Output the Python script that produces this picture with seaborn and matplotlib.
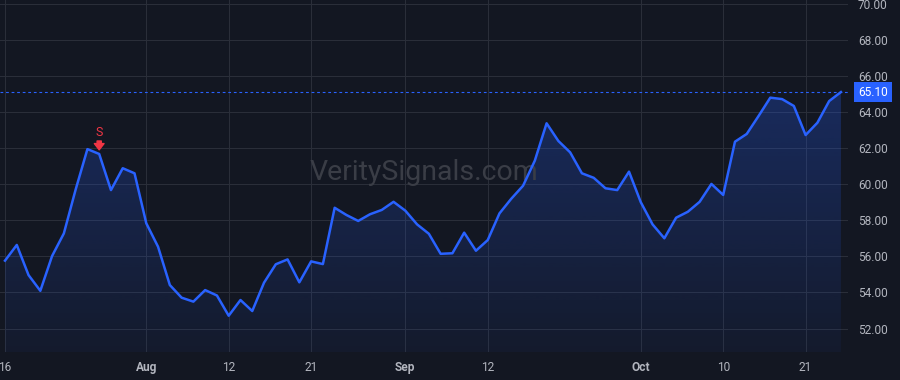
import numpy as np
import pandas as pd
import matplotlib
matplotlib.use("Agg")
import matplotlib.pyplot as plt
import matplotlib.transforms as mtransforms
import seaborn as sns

# ---- data (US trading days 2024-07-16 .. 2024-10-24) ----
prices = [
    55.76, 56.63, 54.96, 54.09, 56.02, 57.27, 59.70, 61.94, 61.67, 59.67,
    60.88, 60.60, 57.83, 56.53, 54.41, 53.71, 53.49, 54.13, 53.83, 52.71,
    53.58, 52.97, 54.54, 55.56, 55.83, 54.56, 55.72, 55.57, 58.69, 58.29,
    57.96, 58.33, 58.57, 59.02, 58.53, 57.77, 57.25, 56.14, 56.17, 57.31,
    56.31, 56.90, 58.38, 59.19, 59.91, 61.30, 63.37, 62.39, 61.76, 60.60,
    60.35, 59.77, 59.67, 60.69, 59.00, 57.77, 57.00, 58.14, 58.47, 59.02,
    60.01, 59.40, 62.35, 62.78, 63.77, 64.79, 64.71, 64.33, 62.72, 63.40,
    64.60, 65.10,
]
x_tick_index = [0, 12, 19, 26, 34, 41, 54, 61, 68]
x_tick_labels = ["16", "Aug", "12", "21", "Sep", "12", "Oct", "10", "21"]
month_labels = ["Aug", "Sep", "Oct"]
y_ticks = [52, 54, 56, 58, 60, 62, 64, 66, 68, 70]
signal_index = 8
signal_label = "S"
watermark = "VeritySignals.com"

df = pd.DataFrame({"idx": np.arange(len(prices)), "price": prices})

BG = "#131722"
GRID = "#2a2e39"
BLUE = "#2962FF"
RED = "#F23645"
TXT = "#b2b5be"

plt.rcParams["font.family"] = ["Roboto", "DejaVu Sans"]

fig = plt.figure(figsize=(9, 3.8), dpi=100, facecolor=BG)
ax = fig.add_axes([0, 28 / 380, 848 / 900, 352 / 380])
ax.set_facecolor(BG)

xlim = (-0.425, 71.6)
ylim = (50.70, 70.20)
ax.set_xlim(*xlim)
ax.set_ylim(*ylim)

# gradient fill under line
poly = ax.fill_between(df["idx"], df["price"], ylim[0], color="none", linewidth=0)
top = max(prices)
n = 256
grad = np.zeros((n, 1, 4))
grad[:, 0, 0] = 41 / 255
grad[:, 0, 1] = 98 / 255
grad[:, 0, 2] = 1.0
grad[:, 0, 3] = np.linspace(0.05, 0.27, n)
im = ax.imshow(grad, extent=[xlim[0], xlim[1], ylim[0], top], origin="lower",
               aspect="auto", zorder=1, interpolation="bilinear")
path = poly.get_paths()[0]
im.set_clip_path(path, transform=ax.transData)

sns.lineplot(data=df, x="idx", y="price", ax=ax, color=BLUE, linewidth=1.8, zorder=3)

# last price dotted line + label
last = prices[-1]
ax.axhline(last, color=BLUE, linewidth=0.8, linestyle=(0, (2.5, 2.5)), zorder=2)
trans = mtransforms.blended_transform_factory(ax.transAxes, ax.transData)
ax.text(1.0 + 10 / 848, last, f"{last:.2f}", transform=trans, ha="left", va="center",
        color="white", fontsize=8.6, clip_on=False, zorder=5,
        bbox=dict(boxstyle="square,pad=0.32", facecolor=BLUE, edgecolor="none"))

# grid, ticks
ax.set_xticks(x_tick_index)
ax.set_xticklabels(x_tick_labels)
for lab in ax.get_xticklabels():
    if lab.get_text() in month_labels:
        lab.set_fontweight("bold")
ax.set_yticks(y_ticks)
ax.set_yticklabels([f"{v:.2f}" for v in y_ticks])
ax.yaxis.tick_right()
ax.tick_params(axis="y", length=0, pad=7.2, colors=TXT, labelsize=8.6)
ax.tick_params(axis="x", length=0, pad=6.5, colors=TXT, labelsize=8.6)
ax.grid(True, color=GRID, linewidth=0.75, zorder=0)
ax.set_axisbelow(True)
for s in ax.spines.values():
    s.set_visible(False)
ax.set_xlabel("")
ax.set_ylabel("")

# signal marker
sv = prices[signal_index]
ax.annotate("", xy=(signal_index, sv), xytext=(0, 13), textcoords="offset pixels",
            xycoords="data",
            arrowprops=dict(arrowstyle="simple,head_length=0.45,head_width=0.7,tail_width=0.3",
                            color=RED, shrinkA=0, shrinkB=3), zorder=6)
ax.annotate(signal_label, xy=(signal_index, sv), xytext=(0, 21), textcoords="offset pixels",
            ha="center", va="center", color=RED, fontsize=9, zorder=6)

# watermark
ax.text(0.5, 0.51, watermark, transform=ax.transAxes, ha="center", va="center",
        color="#3a3d46", fontsize=20.5, zorder=2)

fig.savefig("out.png", dpi=100, facecolor=BG)
